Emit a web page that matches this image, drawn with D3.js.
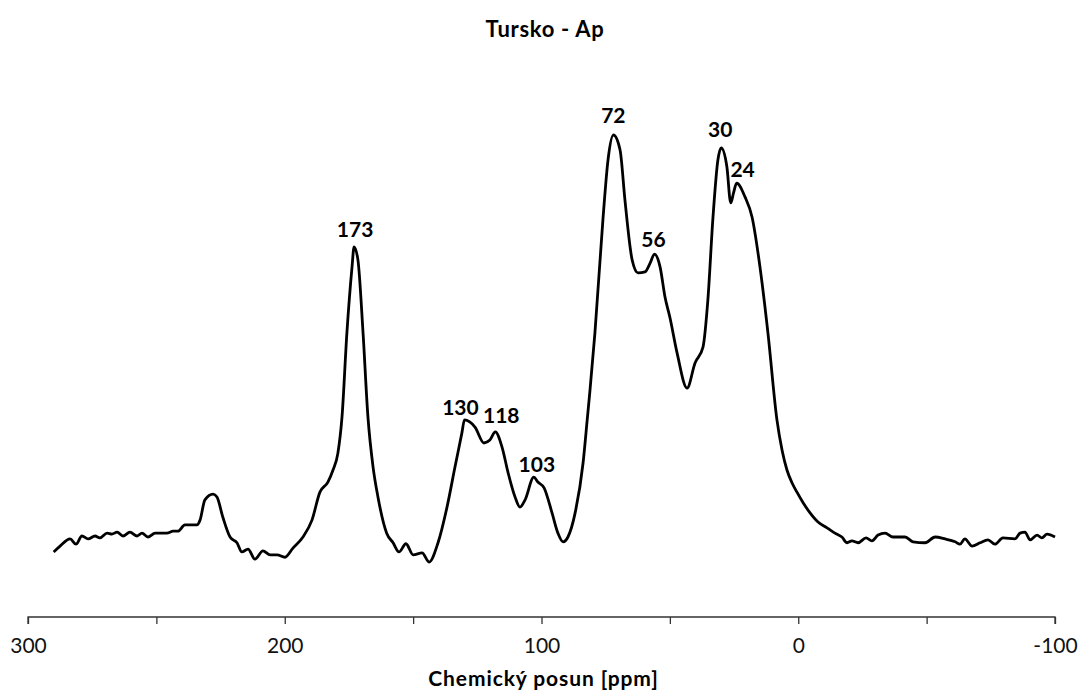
<!DOCTYPE html>
<html>
<head>
<meta charset="utf-8">
<script src="https://cdn.jsdelivr.net/npm/d3@7"></script>
<style>
  html, body { margin: 0; padding: 0; background: #fff; }
  svg { display: block; font-family: Lato, "Open Sans", sans-serif; }
</style>
</head>
<body>
<svg id="chart" width="1083" height="693"></svg>
<script>
// 13C CP/MAS NMR spectrum, Tursko - Ap horizon
const chartTitle = "Tursko - Ap";
const axisTitle = "Chemický posun [ppm]";

// chemical shift (ppm), descending
const shift = [
  290, 287.5, 283.6, 281.3, 279.0, 276.6, 273.9, 272.0, 269.2, 267.3,
  265.3, 263.0, 260.3, 257.5, 255.6, 253.3, 250.5, 245.9, 243.5, 241.6,
  238.9, 234.2, 233.0, 231.1, 227.9, 226.4, 224.1, 221.3, 218.6, 216.7,
  214.3, 211.6, 208.5, 205.7, 203.0, 199.9, 196.8, 192.9, 189.4, 186.3,
  183.2, 181.2, 179.3, 177.7, 175.8, 173.8, 173, 171.5, 169.5, 167.6,
  165.6, 163.7, 160.3, 157.8, 155.5, 152.8, 150.0, 146.5, 143.8, 140.3,
  136.8, 133.7, 131.0, 130, 125.9, 122.4, 120.1, 118, 115.4, 113.0,
  110.3, 108.4, 106.4, 103, 101.4, 99.0, 95.9, 93.6, 91.6, 89.7,
  86.9, 83.8, 82.2, 81.1, 79.2, 76.0, 74.1, 72, 69.4, 67.5,
  64.7, 62.4, 59.7, 57.7, 56, 53.8, 51.9, 50.0, 47.2, 43.3,
  40.2, 37.1, 35.2, 33.2, 31.3, 30, 27.8, 26.3, 25.2, 24,
  20.7, 18.0, 14.9, 11.8, 8.3, 6.3, 4.4, 2.4, 0.5, -1.9,
  -4.6, -7.7, -11.2, -14.3, -17.0, -19.0, -20.9, -23.3, -26.4, -28.7,
  -31.1, -33.8, -36.9, -41.6, -44.7, -49.4, -53.3, -57.2, -61.1, -63.0,
  -64.9, -67.7, -70.8, -73.9, -76.6, -79.7, -84.4, -86.4, -88.3, -90.3,
  -93.0, -94.9, -96.9, -100
];

// signal intensity (relative units, 72 ppm maximum = 100)
const intensity = [
  13.5, 14.7, 16.2, 15.1, 16.8, 16.2, 16.8, 16.4, 17.4, 17.2,
  17.6, 16.8, 17.6, 16.8, 17.4, 16.6, 17.4, 17.4, 17.8, 17.8,
  19.1, 19.1, 20.1, 24.3, 25.5, 24.9, 20.7, 16.6, 15.4, 13.5,
  14.1, 12.0, 13.7, 12.9, 12.9, 12.4, 14.3, 16.6, 20.1, 25.9,
  28.0, 30.5, 34.0, 41.5, 58.9, 72.6, 76.8, 74.1, 58.9, 41.5,
  31.1, 24.9, 17.4, 15.4, 13.5, 15.2, 12.9, 13.3, 11.4, 15.4,
  22.8, 31.1, 38.2, 40.9, 39.4, 36.1, 36.7, 38.4, 35.3, 29.9,
  24.9, 22.8, 24.3, 29.0, 28.0, 26.8, 21.6, 17.4, 15.6, 16.6,
  21.6, 32.0, 40.9, 47.1, 58.9, 83.0, 94.8, 100, 96.9, 86.5,
  74.1, 71.4, 71.6, 73.4, 75.3, 72.6, 66.4, 62.2, 54.8, 47.5,
  52.7, 56.0, 65.8, 83.0, 94.8, 97.3, 93.4, 85.9, 88.0, 90.0,
  87.1, 83.0, 72.6, 58.9, 40.9, 34.6, 30.5, 27.8, 25.9, 23.7,
  21.6, 19.7, 18.5, 17.4, 16.6, 15.4, 15.8, 15.4, 16.4, 15.8,
  17.0, 17.4, 16.6, 16.6, 15.6, 15.4, 16.6, 16.2, 15.6, 15.1,
  16.2, 14.7, 15.4, 16.0, 15.1, 16.4, 16.2, 17.4, 17.6, 16.0,
  17.0, 16.4, 17.2, 16.6
];

// labelled peak maxima (ppm)
const peaks = [173, 130, 118, 103, 72, 56, 30, 24];

// x-axis ticks
const xTicks = [300, 250, 200, 150, 100, 50, 0, -50, -100];
const xTickLabels = ["300", "", "200", "", "100", "", "0", "", "-100"];

const data = shift.map((s, i) => ({ ppm: s, val: intensity[i] }));

const svg = d3.select("#chart");
const margin = { left: 28, right: 28, top: 135, axis: 617 };

const x = d3.scaleLinear().domain([300, -100]).range([margin.left, 1083 - margin.right]);
const y = d3.scaleLinear().domain([0, 100]).range([margin.axis, margin.top]);

// title
svg.append("text")
  .attr("x", 545).attr("y", 37)
  .attr("text-anchor", "middle")
  .attr("font-weight", "bold")
  .attr("font-size", 22)
  .attr("letter-spacing", 0.7)
  .attr("fill", "#000")
  .text(chartTitle);

// x axis
const xAxis = d3.axisBottom(x)
  .tickValues(xTicks)
  .tickSize(7)
  .tickPadding(14)
  .tickFormat((d, i) => xTickLabels[i]);

const gx = svg.append("g")
  .attr("transform", `translate(0,${margin.axis})`)
  .call(xAxis);
gx.select(".domain").attr("stroke", "#333").attr("stroke-width", 1.3)
  .attr("d", `M${x(300)},7V0H${x(-100)}V7`);
gx.selectAll(".tick line").attr("stroke", "#333").attr("stroke-width", 1.3);
gx.selectAll(".tick text")
  .attr("font-family", "Lato, 'Open Sans', sans-serif")
  .attr("font-size", 21)
  .attr("fill", "#111");

// axis title
svg.append("text")
  .attr("x", (x(300) + x(-100)) / 2 + 2).attr("y", 686)
  .attr("text-anchor", "middle")
  .attr("font-weight", "bold")
  .attr("font-size", 21)
  .attr("letter-spacing", 0.9)
  .attr("fill", "#000")
  .text(axisTitle);

// spectrum
const line = d3.line()
  .x(d => x(d.ppm))
  .y(d => y(d.val))
  .curve(d3.curveMonotoneX);

svg.append("path")
  .datum(data)
  .attr("d", line)
  .attr("fill", "none")
  .attr("stroke", "#000")
  .attr("stroke-width", 2.8)
  .attr("stroke-linejoin", "round");

// peak labels, nudged to avoid overlapping neighbours
const nudge = {
  173: [1, -10], 130: [-4, -5], 118: [6, -9], 103: [3, -5],
  72: [0, -12], 56: [-1, -7], 30: [-1, -11], 24: [6, -6]
};
const valueAt = p => data.find(d => d.ppm === p).val;

svg.append("g").selectAll("text")
  .data(peaks)
  .join("text")
  .attr("x", d => x(d) + nudge[d][0])
  .attr("y", d => y(valueAt(d)) + nudge[d][1])
  .attr("text-anchor", "middle")
  .attr("font-weight", "bold")
  .attr("font-size", 21)
  .attr("fill", "#000")
  .text(d => d);
</script>
</body>
</html>
